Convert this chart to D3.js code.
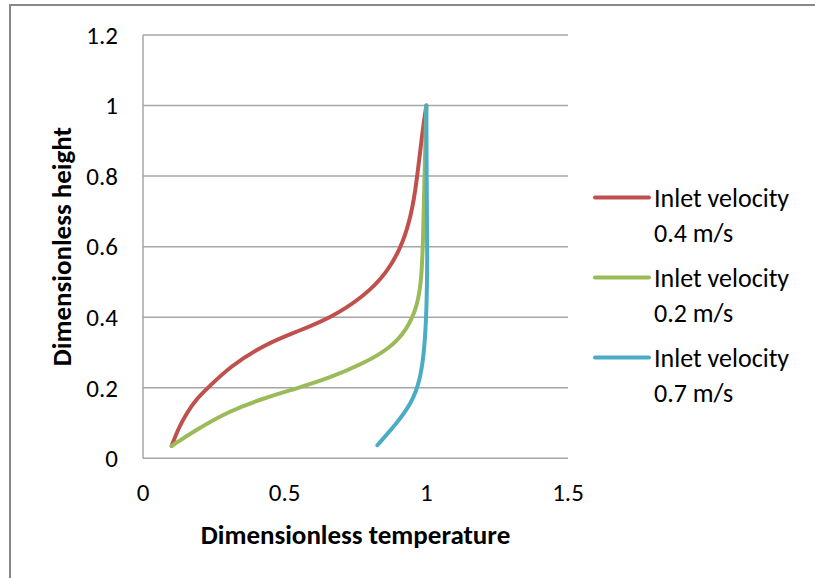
<!DOCTYPE html>
<html lang="en">
<head>
    <meta charset="UTF-8">
    <title>Dimensionless temperature profile</title>
    <script src="https://cdnjs.cloudflare.com/ajax/libs/d3/7.8.5/d3.min.js"></script>
    <style>
        body { margin: 0; background: #fff; }
        text { font-family: Carlito, Calibri, "Open Sans", sans-serif; fill: #000; }
    </style>
</head>
<body>
<script>
    // Data: [temperature, height]
    var red04 = [
        [0.101, 0.035], [0.125, 0.085], [0.154, 0.128], [0.190, 0.170],
        [0.236, 0.205], [0.307, 0.260], [0.425, 0.321], [0.542, 0.359],
        [0.660, 0.397], [0.778, 0.458], [0.860, 0.524], [0.919, 0.609],
        [0.954, 0.713], [0.972, 0.827], [0.987, 0.931], [1.0, 1.0]
    ];
    var green02 = [
        [0.101, 0.035], [0.190, 0.082], [0.307, 0.135], [0.425, 0.170],
        [0.542, 0.198], [0.660, 0.228], [0.778, 0.269], [0.872, 0.312],
        [0.931, 0.364], [0.968, 0.430], [0.983, 0.505], [0.989, 0.628],
        [0.994, 0.817], [1.0, 1.0]
    ];
    var blue07 = [
        [0.827, 0.037], [0.895, 0.099], [0.948, 0.156], [0.978, 0.222],
        [0.992, 0.298], [1.001, 0.411], [1.004, 0.581], [1.001, 0.770],
        [1.0, 1.0]
    ];
    var seriesNames = ["Inlet velocity|0.4 m/s", "Inlet velocity|0.2 m/s", "Inlet velocity|0.7 m/s"];
    var seriesColors = ["#c0504d", "#9bbb59", "#4bacc6"];
    var xTicks = [0, 0.5, 1, 1.5];
    var yTicks = [0, 0.2, 0.4, 0.6, 0.8, 1, 1.2];

    var width = 815, height = 578;
    var svg = d3.select("body").append("svg")
        .attr("width", width)
        .attr("height", height);

    // chart border
    svg.append("rect")
        .attr("x", 10).attr("y", 5)
        .attr("width", 830).attr("height", 600)
        .attr("fill", "none")
        .attr("stroke", "#878787")
        .attr("stroke-width", 2);

    var x = d3.scaleLinear().domain([0, 1.5]).range([143, 568]);
    var y = d3.scaleLinear().domain([0, 1.2]).range([458.3, 35]);

    // gridlines
    svg.append("g")
        .selectAll("line")
        .data(yTicks)
        .enter()
        .append("line")
        .attr("x1", x(0)).attr("x2", x(1.5))
        .attr("y1", function (d) { return y(d); })
        .attr("y2", function (d) { return y(d); })
        .attr("stroke", "#a6a6a6")
        .attr("stroke-width", 1.5);

    // left axis line
    svg.append("line")
        .attr("x1", x(0)).attr("x2", x(0))
        .attr("y1", y(0)).attr("y2", y(1.2))
        .attr("stroke", "#a6a6a6")
        .attr("stroke-width", 1.5);

    // tick labels
    svg.append("g")
        .selectAll("text")
        .data(yTicks)
        .enter()
        .append("text")
        .attr("x", 118)
        .attr("y", function (d) { return y(d); })
        .attr("dy", "0.35em")
        .attr("text-anchor", "end")
        .style("font-size", "25px")
        .text(function (d) { return d; });

    svg.append("g")
        .selectAll("text")
        .data(xTicks)
        .enter()
        .append("text")
        .attr("x", function (d) { return x(d); })
        .attr("y", 492)
        .attr("dy", "0.35em")
        .attr("text-anchor", "middle")
        .style("font-size", "25px")
        .text(function (d) { return d; });

    // axis titles
    svg.append("text")
        .attr("x", (x(0) + x(1.5)) / 2)
        .attr("y", 535)
        .attr("dy", "0.35em")
        .attr("text-anchor", "middle")
        .style("font-size", "27px")
        .style("font-weight", "bold")
        .text("Dimensionless temperature");

    svg.append("text")
        .attr("transform", "translate(62," + ((y(0) + y(1.2)) / 2) + ") rotate(-90)")
        .attr("dy", "0.35em")
        .attr("text-anchor", "middle")
        .style("font-size", "27px")
        .style("font-weight", "bold")
        .text("Dimensionless height");

    // series
    var line = d3.line()
        .x(function (d) { return x(d[0]); })
        .y(function (d) { return y(d[1]); })
        .curve(d3.curveBasis);

    [red04, green02, blue07].forEach(function (s, i) {
        svg.append("path")
            .datum(s)
            .attr("d", line)
            .attr("fill", "none")
            .attr("stroke", seriesColors[i])
            .attr("stroke-width", 4)
            .attr("stroke-linecap", "round")
            .attr("stroke-linejoin", "round");
    });

    // legend
    var legend = svg.append("g")
        .selectAll("g")
        .data(seriesNames)
        .enter()
        .append("g")
        .attr("transform", function (d, i) { return "translate(595," + (197.5 + i * 80) + ")"; });

    legend.append("line")
        .attr("x1", 0).attr("x2", 54)
        .attr("stroke", function (d, i) { return seriesColors[i]; })
        .attr("stroke-width", 4)
        .attr("stroke-linecap", "round");

    legend.append("text")
        .attr("x", 59)
        .style("font-size", "26px")
        .selectAll("tspan")
        .data(function (d) { return d.split("|"); })
        .enter()
        .append("tspan")
        .attr("x", 59)
        .attr("y", function (d, j) { return j * 35; })
        .attr("dy", "0.35em")
        .text(function (d) { return d; });
</script>
</body>
</html>
